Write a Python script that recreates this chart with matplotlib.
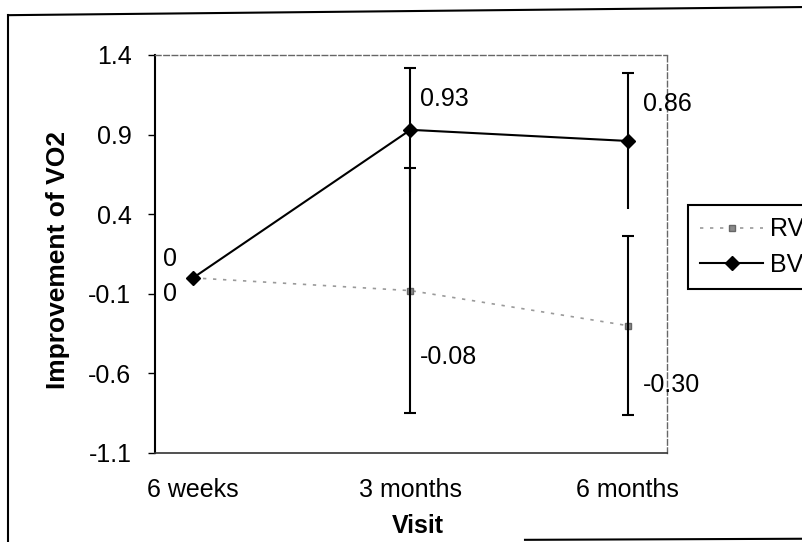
import matplotlib
matplotlib.use('Agg')
import matplotlib.pyplot as plt
from matplotlib.lines import Line2D

visits = ['6 weeks', '3 months', '6 months']
rv = [0, -0.08, -0.30]
bv = [0, 0.93, 0.86]
rv_err = [0, 0.77, 0.56]
bv_err = [0, 0.39, 0.43]
rv_labels = ['0', '-0.08', '-0.30']
bv_labels = ['0', '0.93', '0.86']
yticks = [1.4, 0.9, 0.4, -0.1, -0.6, -1.1]

plt.rcParams['font.family'] = ['Liberation Sans', 'DejaVu Sans']

fig = plt.figure(figsize=(8.03, 5.42), dpi=100)
ax = fig.add_axes([155 / 803, 1 - 453 / 542, 512 / 803, 398 / 542])

x = list(range(len(visits)))

# RV dotted grey line
ax.plot(x, rv, color='#9a9a9a', lw=1.2, ls=(0, (2, 4)), marker='s', ms=5,
        mfc='#8a8a8a', mec='#666666', label='RV', zorder=2)

# error bars (skip the baseline visit)
ax.errorbar(x[1:], rv[1:], yerr=rv_err[1:], fmt='none', ecolor='black',
            elinewidth=1.5, capsize=4.3, capthick=1.5, zorder=3)
ax.errorbar(x[1:], bv[1:], yerr=bv_err[1:], fmt='none', ecolor='black',
            elinewidth=1.5, capsize=0, zorder=3)
bv_top = [v + e for v, e in zip(bv[1:], bv_err[1:])]
ax.plot(x[1:], bv_top, ls='none', marker='_', ms=8.6, mew=1.5, color='black', zorder=3)

# BV solid line with diamonds
ax.plot(x, bv, color='black', lw=1.5, marker='D', ms=7, label='BV', zorder=4)

# data labels
bv_off = [(-30, 19), (10, 31), (15, 37)]
rv_off = [(-30, -16), (9, -66), (15, -59)]
for i in range(len(visits)):
    ax.annotate(bv_labels[i], (x[i], bv[i]), xytext=bv_off[i], textcoords='offset pixels',
                ha='left', va='center', fontsize=18)
    ax.annotate(rv_labels[i], (x[i], rv[i]), xytext=rv_off[i], textcoords='offset pixels',
                ha='left', va='center', fontsize=18)

ax.set_xlim(-0.175, 2.18)
ax.set_ylim(-1.1, 1.4)
ax.set_xticks(x)
ax.set_xticklabels(visits, fontsize=18)
ax.set_yticks(yticks)
ax.set_yticklabels(['%.1f' % v for v in yticks], fontsize=18)
ax.tick_params(axis='x', length=0, pad=18)
ax.tick_params(axis='y', length=5, width=1, direction='out', pad=12)

ax.set_ylabel('Improvement of VO2', fontsize=19, fontweight='bold')
ax.yaxis.set_label_coords(-0.166, 0.485)
ax.set_xlabel('Visit', fontsize=18, fontweight='bold')
ax.xaxis.set_label_coords(0.514, -0.153)

ax.spines['left'].set_linewidth(1.5)
ax.spines['left'].set_color('black')
ax.spines['bottom'].set_color('#333333')
ax.spines['bottom'].set_linestyle((0, (5, 1)))
ax.spines['bottom'].set_linewidth(1.2)
for s in ['top', 'right']:
    ax.spines[s].set_color('#666666')
    ax.spines[s].set_linestyle((0, (4, 2)))
    ax.spines[s].set_linewidth(1)

leg = ax.legend(loc='upper left', bbox_to_anchor=(688 / 803, 1 - 205 / 542),
                bbox_transform=fig.transFigure, fontsize=18, frameon=True,
                fancybox=False, framealpha=1, edgecolor='black', borderaxespad=0,
                handlelength=2.5, handletextpad=0.3, labelspacing=0.45, borderpad=0.5)
leg.get_frame().set_linewidth(1.5)

# outer chart border (scanned page frame)
fig.add_artist(Line2D([0.01, 1.0], [0.972, 0.987], transform=fig.transFigure, color='black', lw=1.5))
fig.add_artist(Line2D([0.01, 0.01], [0.972, 0.0], transform=fig.transFigure, color='black', lw=1.5))
fig.add_artist(Line2D([525 / 803, 1.0], [0.004, 0.006], transform=fig.transFigure, color='black', lw=1.5))

fig.savefig('out.png', dpi=100)
